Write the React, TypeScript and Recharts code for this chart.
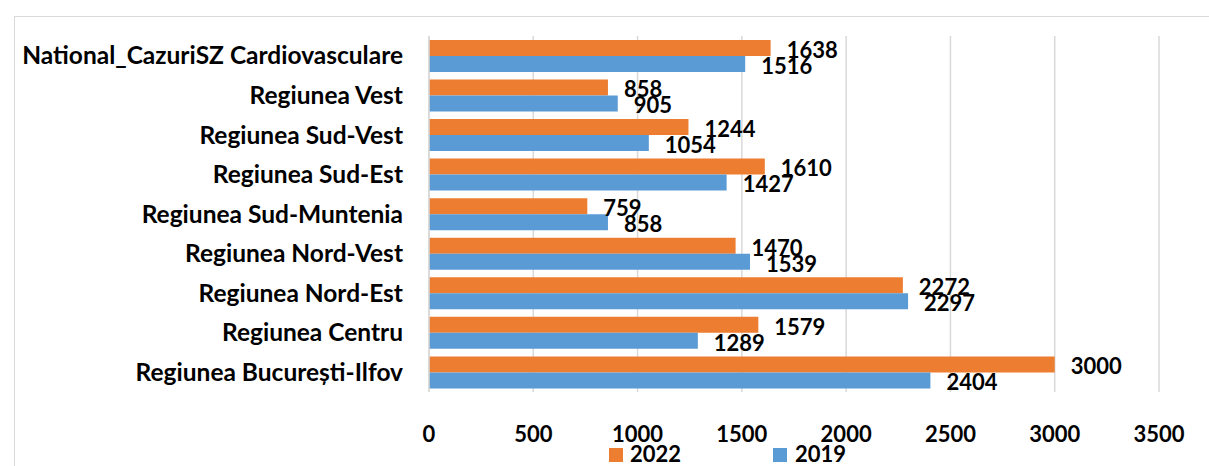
import React from "react";
import { BarChart, Bar, XAxis, YAxis, CartesianGrid, Legend, LabelList } from "recharts";

const categories = [
  "National_CazuriSZ Cardiovasculare",
  "Regiunea Vest",
  "Regiunea Sud-Vest",
  "Regiunea Sud-Est",
  "Regiunea Sud-Muntenia",
  "Regiunea Nord-Vest",
  "Regiunea Nord-Est",
  "Regiunea Centru",
  "Regiunea București-Ilfov",
];
const values2022 = [1638, 858, 1244, 1610, 759, 1470, 2272, 1579, 3000];
const values2019 = [1516, 905, 1054, 1427, 858, 1539, 2297, 1289, 2404];
const xTicks = [0, 500, 1000, 1500, 2000, 2500, 3000, 3500];

const data = categories.map((name, i) => ({ name, y2022: values2022[i], y2019: values2019[i] }));

const FONT = "Lato, 'Open Sans', sans-serif";
const ORANGE = "#ED7D31";
const BLUE = "#5B9BD5";
const GRID = "#D9D9D9";

const LegendContent = () => (
  <div style={{ position: "relative", width: 1209, height: 20, fontFamily: FONT, fontWeight: 700, fontSize: 22, color: "#000" }}>
    <div style={{ position: "absolute", left: 609, top: 6, width: 14, height: 14, background: ORANGE }} />
    <div style={{ position: "absolute", left: 630, top: -1, lineHeight: "26px" }}>2022</div>
    <div style={{ position: "absolute", left: 773, top: 6, width: 14, height: 14, background: BLUE }} />
    <div style={{ position: "absolute", left: 795, top: -1, lineHeight: "26px" }}>2019</div>
  </div>
);

const labelStyle = { fontFamily: FONT, fontWeight: 700, fontSize: 22, fill: "#000" };

export default function App() {
  return (
    <div style={{ position: "absolute", left: 0, top: 0, width: 1209, height: 466, overflow: "hidden", background: "#fff" }}>
      <div style={{ position: "absolute", left: 14, top: 16, width: 1300, height: 600, border: "1px solid #D9D9D9" }} />
      <div style={{ position: "absolute", left: 0, top: 0 }}>
        <BarChart
          width={1209}
          height={466}
          data={data}
          layout="vertical"
          margin={{ top: 36, right: 50, left: 0, bottom: 4 }}
          barCategoryGap="10%"
          barGap={0}
        >
          <CartesianGrid horizontal={false} stroke={GRID} strokeWidth={1.5} />
          <XAxis
            type="number"
            domain={[0, 3500]}
            ticks={xTicks}
            interval={0}
            axisLine={false}
            tickLine={false}
            tickMargin={28}
            height={50}
            tick={{ fontFamily: FONT, fontWeight: 700, fontSize: 22, fill: "#000" }}
          />
          <YAxis
            type="category"
            dataKey="name"
            width={429}
            axisLine={{ stroke: GRID, strokeWidth: 1.5 }}
            tickLine={false}
            tickMargin={20}
            interval={0}
            tick={{ fontFamily: FONT, fontWeight: 700, fontSize: 24.5, fill: "#000" }}
          />
          <Legend verticalAlign="bottom" height={20} wrapperStyle={{ left: 0, width: 1209 }} content={<LegendContent />} />
          <Bar dataKey="y2022" name="2022" fill={ORANGE} isAnimationActive={false}>
            <LabelList dataKey="y2022" position="right" offset={16} dy={2} style={labelStyle} />
          </Bar>
          <Bar dataKey="y2019" name="2019" fill={BLUE} isAnimationActive={false}>
            <LabelList dataKey="y2019" position="right" offset={16} dy={2} style={labelStyle} />
          </Bar>
        </BarChart>
      </div>
    </div>
  );
}
